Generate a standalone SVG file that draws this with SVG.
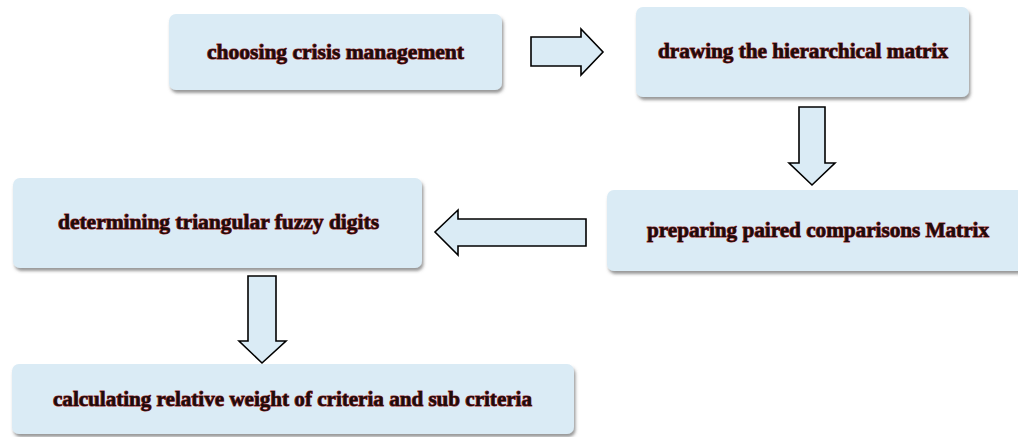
<svg xmlns="http://www.w3.org/2000/svg" width="1018" height="437" viewBox="0 0 1018 437">
<style>
.box{fill:#daebf5;filter:url(#sh)}
.lbl{font-family:"Liberation Serif","Times New Roman",serif;font-weight:bold;font-size:21px;fill:#1c0c0c;stroke:#9a2a2a;stroke-width:1.1px;paint-order:stroke;text-anchor:middle}
.arr{fill:#daebf5;stroke:#000;stroke-width:1.6;stroke-linejoin:miter}
</style>
<defs>
<filter id="sh" x="-5%" y="-10%" width="110%" height="130%">
<feDropShadow dx="1.5" dy="3" stdDeviation="1.5" flood-color="#555" flood-opacity="0.6"/>
</filter>
</defs>
<rect width="1018" height="437" fill="#fff"/>
<g id="node-choosing">
<rect class="box" x="169" y="14" width="333" height="76" rx="7"/>
<text class="lbl" x="335.5" y="59" textLength="257" lengthAdjust="spacingAndGlyphs">choosing crisis management</text>
</g>
<g id="node-drawing">
<rect class="box" x="636" y="7" width="333" height="90" rx="7"/>
<text class="lbl" x="803" y="58" textLength="290" lengthAdjust="spacingAndGlyphs">drawing the hierarchical matrix</text>
</g>
<g id="node-preparing">
<rect class="box" x="607" y="190" width="425" height="81" rx="7"/>
<text class="lbl" x="818" y="237" textLength="342" lengthAdjust="spacingAndGlyphs">preparing paired comparisons Matrix</text>
</g>
<g id="node-determining">
<rect class="box" x="13" y="178" width="409" height="90" rx="7"/>
<text class="lbl" x="218.5" y="229" textLength="321" lengthAdjust="spacingAndGlyphs">determining triangular fuzzy digits</text>
</g>
<g id="node-calculating">
<rect class="box" x="12" y="364" width="562" height="70" rx="7"/>
<text class="lbl" x="292.5" y="406" textLength="479" lengthAdjust="spacingAndGlyphs">calculating relative weight of criteria and sub criteria</text>
</g>
<g id="connectors">
<polygon class="arr" points="531,37 581,37 581,29 603,52 581,75 581,66 531,66"/>
<polygon class="arr" points="799,107 825,107 825,163 835,163 812,185 789,163 799,163"/>
<polygon class="arr" points="586,219 458,219 458,210 435,232 458,255 458,246 586,246"/>
<polygon class="arr" points="248,276 276,276 276,341 286,341 262,363 239,341 248,341"/>
</g>
</svg>
